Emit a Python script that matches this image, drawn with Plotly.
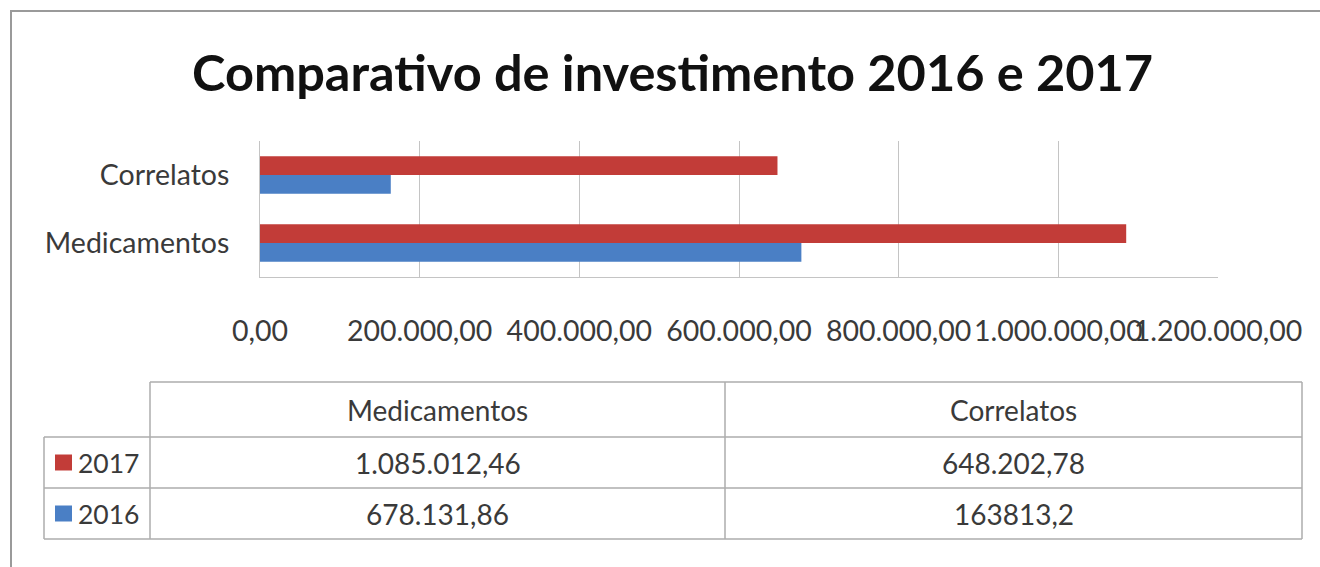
import plotly.graph_objects as go

# Investment figures as printed in the data table (pt-BR number format)
categories = ["Medicamentos", "Correlatos"]
inv_2017_txt = ["1.085.012,46", "648.202,78"]
inv_2016_txt = ["678.131,86", "163813,2"]
x_ticks = [0, 200000, 400000, 600000, 800000, 1000000, 1200000]

COLOR_2017 = "#c23c38"
COLOR_2016 = "#4a7fc5"
TEXT = "#3a3a3a"
GRID = "#c4c4c4"
FONT = "Lato"


def to_number(s):
    return float(s.replace(".", "").replace(",", "."))


inv_2017 = [to_number(s) for s in inv_2017_txt]
inv_2016 = [to_number(s) for s in inv_2016_txt]

W, H = 1320, 567
L, R, T, B = 260, 1218, 141, 277  # plot area in pixels


def fx(p):
    return (p - L) / (R - L)


def fy(p):
    return (B - p) / (B - T)


fig = go.Figure()
fig.add_trace(go.Bar(y=categories, x=inv_2016, orientation="h", name="2016",
                     marker=dict(color=COLOR_2016, line=dict(width=0))))
fig.add_trace(go.Bar(y=categories, x=inv_2017, orientation="h", name="2017",
                     marker=dict(color=COLOR_2017, line=dict(width=0))))

shapes = []
annotations = []

# chart frame
shapes.append(dict(type="rect", xref="paper", yref="paper",
                   x0=fx(11), x1=fx(1345), y0=fy(11), y1=fy(600),
                   line=dict(color="#9a9a9a", width=2), layer="below"))

# title
annotations.append(dict(text="<b>Comparativo de investimento 2016 e 2017</b>",
                        xref="paper", yref="paper", x=fx(672), y=fy(71),
                        xanchor="center", yanchor="middle", showarrow=False,
                        font=dict(family=FONT, size=50.5, color="#111111")))

# data table below the chart
col_x = [44, 150, 725, 1302]
row_y = [382, 437, 488, 539]
line_style = dict(color="#acacac", width=1.5)


def hline(y, x0, x1):
    shapes.append(dict(type="line", xref="paper", yref="paper",
                       x0=fx(x0), x1=fx(x1), y0=fy(y), y1=fy(y), line=line_style))


def vline(x, y0, y1):
    shapes.append(dict(type="line", xref="paper", yref="paper",
                       x0=fx(x), x1=fx(x), y0=fy(y0), y1=fy(y1), line=line_style))


hline(row_y[0], col_x[1], col_x[3])
for y in row_y[1:]:
    hline(y, col_x[0], col_x[3])
vline(col_x[0], row_y[1], row_y[3])
for x in col_x[1:]:
    vline(x, row_y[0], row_y[3])


def cell_text(text, xc, yc):
    annotations.append(dict(text=text, xref="paper", yref="paper",
                            x=fx(xc), y=fy(yc), xanchor="center", yanchor="middle",
                            showarrow=False,
                            font=dict(family=FONT, size=28, color=TEXT)))


col_centers = [(col_x[1] + col_x[2]) / 2, (col_x[2] + col_x[3]) / 2]
row_centers = [(row_y[i] + row_y[i + 1]) / 2 for i in range(3)]

for j, cat in enumerate(categories):
    cell_text(cat, col_centers[j], row_centers[0])

table_rows = [("2017", inv_2017_txt, COLOR_2017), ("2016", inv_2016_txt, COLOR_2016)]
for i, (year, texts, color) in enumerate(table_rows):
    yc = row_centers[i + 1]
    for j, t in enumerate(texts):
        cell_text(t, col_centers[j], yc)
    # legend key
    shapes.append(dict(type="rect", xref="paper", yref="paper",
                       x0=fx(55), x1=fx(72), y0=fy(yc - 8), y1=fy(yc + 8),
                       fillcolor=color, line=dict(width=0)))
    annotations.append(dict(text=year, xref="paper", yref="paper",
                            x=fx(76), y=fy(yc), xanchor="left", yanchor="middle",
                            showarrow=False,
                            font=dict(family=FONT, size=26.5, color=TEXT)))

fig.update_layout(
    width=W, height=H,
    margin=dict(l=L, r=W - R, t=T, b=H - B, pad=0),
    paper_bgcolor="white", plot_bgcolor="white",
    separators=",.",
    barmode="group", bargap=0.45, bargroupgap=0,
    showlegend=False,
    font=dict(family=FONT, color=TEXT),
    shapes=shapes, annotations=annotations,
    xaxis=dict(range=[0, 1200000], tickvals=x_ticks, tickformat=",.2f",
               tickangle=0, showgrid=True, gridcolor=GRID, gridwidth=1,
               showline=True, linecolor=GRID, linewidth=1, zeroline=False,
               ticks="", ticklabelstandoff=29,
               tickfont=dict(family=FONT, size=28.5, color=TEXT)),
    yaxis=dict(categoryorder="array", categoryarray=categories,
               showgrid=False, showline=True, linecolor=GRID, linewidth=1,
               ticks="", ticklabelstandoff=24,
               tickfont=dict(family=FONT, size=28.5, color=TEXT)),
)

fig.write_html("out.html")
